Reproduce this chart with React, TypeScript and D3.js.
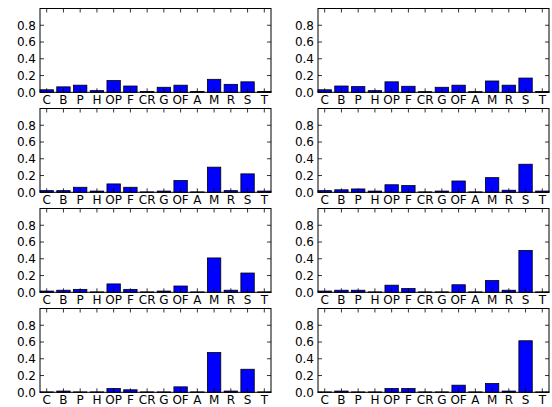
import * as d3 from 'd3'

// category order on the x axis
const categories = ['C', 'B', 'P', 'H', 'OP', 'F', 'CR', 'G', 'OF', 'A', 'M', 'R', 'S', 'T']
const yTicks = [0, 0.2, 0.4, 0.6, 0.8]

// one array per panel, read left-to-right, top-to-bottom
const panel1 = [0.03, 0.065, 0.085, 0.02, 0.14, 0.075, 0.01, 0.06, 0.085, 0.01, 0.155, 0.095, 0.125, 0.01]
const panel2 = [0.03, 0.075, 0.068, 0.02, 0.125, 0.072, 0.008, 0.06, 0.085, 0.008, 0.135, 0.085, 0.17, 0.01]
const panel3 = [0.02, 0.02, 0.06, 0.015, 0.1, 0.06, 0.005, 0.015, 0.14, 0.005, 0.3, 0.02, 0.22, 0.015]
const panel4 = [0.02, 0.03, 0.04, 0.015, 0.09, 0.08, 0.005, 0.015, 0.135, 0.005, 0.175, 0.025, 0.335, 0.015]
const panel5 = [0.015, 0.025, 0.035, 0.005, 0.1, 0.035, 0.005, 0.015, 0.075, 0.005, 0.41, 0.025, 0.23, 0.005]
const panel6 = [0.015, 0.025, 0.025, 0.005, 0.085, 0.045, 0.005, 0.005, 0.09, 0.005, 0.14, 0.025, 0.5, 0.005]
const panel7 = [0.005, 0.015, 0.005, 0.005, 0.045, 0.03, 0.005, 0.005, 0.065, 0.005, 0.475, 0.015, 0.275, 0.005]
const panel8 = [0.005, 0.015, 0.005, 0.005, 0.045, 0.045, 0.005, 0.005, 0.085, 0.005, 0.105, 0.015, 0.615, 0.005]

const panels = [panel1, panel2, panel3, panel4, panel5, panel6, panel7, panel8]

const W = 552
const H = 407
const colLeft = [40, 318]
const rowTop = [8.5, 108.5, 208.5, 308.5]
const axW = 231
const axH = 83.8
const barWidth = 0.8
const tickLen = 4
const font = '"DejaVu Sans", sans-serif'

function Panel({ values, left, top }: { values: number[]; left: number; top: number }) {
  const x = d3.scaleLinear().domain([0, categories.length - 1 + barWidth]).range([left, left + axW])
  const y = d3.scaleLinear().domain([0, 1]).range([top + axH, top])
  const bottom = top + axH
  const right = left + axW

  return (
    <g>
      <rect x={left} y={top} width={axW} height={axH} fill="#fff" />
      {values.map((v, i) => (
        <rect
          key={categories[i]}
          x={x(i)}
          y={y(v)}
          width={x(i + barWidth) - x(i)}
          height={y(0) - y(v)}
          fill="#0000ff"
          stroke="#000"
          strokeWidth={0.8}
        />
      ))}
      {/* x ticks, inward on top and bottom spines */}
      {categories.map((c, i) => {
        const tx = x(i + barWidth / 2)
        return (
          <g key={c}>
            <line x1={tx} x2={tx} y1={bottom} y2={bottom - tickLen} stroke="#000" strokeWidth={0.8} />
            <line x1={tx} x2={tx} y1={top} y2={top + tickLen} stroke="#000" strokeWidth={0.8} />
            <text x={tx} y={bottom + 12} textAnchor="middle" fontFamily={font} fontSize={12} fill="#000">
              {c}
            </text>
          </g>
        )
      })}
      {/* y ticks, inward on left and right spines */}
      {yTicks.map(t => (
        <g key={t}>
          <line x1={left} x2={left + tickLen} y1={y(t)} y2={y(t)} stroke="#000" strokeWidth={0.8} />
          <line x1={right} x2={right - tickLen} y1={y(t)} y2={y(t)} stroke="#000" strokeWidth={0.8} />
          <text x={left - 4} y={y(t)} dy="0.36em" textAnchor="end" fontFamily={font} fontSize={12} fill="#000">
            {d3.format('.1f')(t)}
          </text>
        </g>
      ))}
      <rect x={left} y={top} width={axW} height={axH} fill="none" stroke="#000" strokeWidth={1} />
    </g>
  )
}

export default function App() {
  return (
    <svg
      width={W}
      height={H}
      viewBox={`0 0 ${W} ${H}`}
      style={{ position: 'absolute', left: 0, top: 0, background: '#fff' }}
    >
      {panels.map((vals, k) => (
        <Panel key={k} values={vals} left={colLeft[k % 2]} top={rowTop[Math.floor(k / 2)]} />
      ))}
    </svg>
  )
}
